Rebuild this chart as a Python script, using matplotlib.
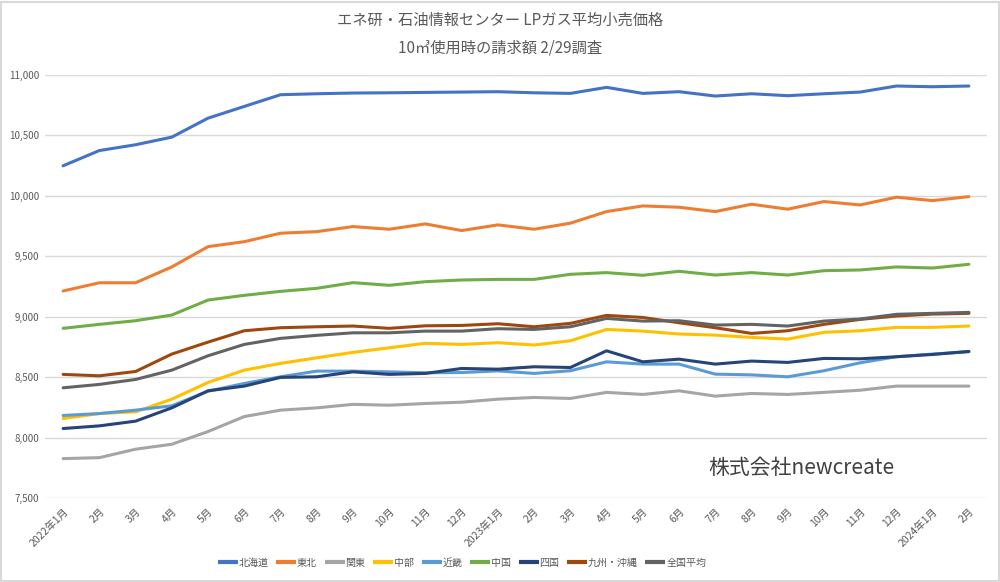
import matplotlib
matplotlib.use("Agg")
import matplotlib.pyplot as plt
from matplotlib.patches import Rectangle
from matplotlib.ticker import FuncFormatter

plt.rcParams['font.family'] = ['Noto Sans CJK JP', 'DejaVu Sans']

months = ["2022年1月", "2月", "3月", "4月", "5月", "6月", "7月", "8月", "9月", "10月", "11月", "12月",
          "2023年1月", "2月", "3月", "4月", "5月", "6月", "7月", "8月", "9月", "10月", "11月", "12月",
          "2024年1月", "2月"]

hokkaido = [10249, 10375, 10423, 10486, 10643, 10740, 10837, 10845, 10851, 10853, 10856, 10859, 10862,
            10853, 10848, 10898, 10848, 10862, 10826, 10845, 10829, 10845, 10859, 10909, 10903, 10909]
tohoku = [9213, 9281, 9281, 9412, 9580, 9621, 9691, 9704, 9746, 9724, 9768, 9713, 9760,
          9724, 9774, 9870, 9917, 9906, 9870, 9931, 9890, 9953, 9925, 9989, 9961, 9994]
kanto = [7826, 7834, 7904, 7945, 8050, 8174, 8227, 8246, 8275, 8268, 8282, 8293, 8318,
         8332, 8324, 8374, 8357, 8387, 8343, 8365, 8357, 8374, 8392, 8426, 8426, 8426]
chubu = [8158, 8199, 8213, 8318, 8456, 8558, 8614, 8660, 8705, 8743, 8780, 8771, 8785,
         8766, 8801, 8895, 8881, 8857, 8848, 8829, 8815, 8871, 8884, 8912, 8912, 8923]
kinki = [8183, 8199, 8227, 8263, 8384, 8448, 8503, 8550, 8550, 8544, 8536, 8538, 8552,
         8531, 8553, 8627, 8608, 8608, 8525, 8519, 8503, 8553, 8619, 8669, 8691, 8710]
chugoku = [8904, 8937, 8967, 9014, 9138, 9177, 9210, 9235, 9282, 9260, 9290, 9304, 9309,
           9309, 9351, 9365, 9343, 9376, 9345, 9365, 9345, 9381, 9387, 9412, 9403, 9434]
shikoku = [8075, 8097, 8136, 8246, 8387, 8426, 8498, 8503, 8544, 8523, 8531, 8572, 8566,
           8586, 8580, 8718, 8627, 8649, 8608, 8633, 8622, 8655, 8652, 8669, 8688, 8713]
kyushu = [8523, 8511, 8547, 8691, 8790, 8884, 8909, 8917, 8923, 8904, 8925, 8928, 8942,
          8917, 8945, 9011, 8994, 8950, 8909, 8862, 8884, 8937, 8978, 9006, 9022, 9028]
national = [8412, 8440, 8481, 8558, 8677, 8771, 8821, 8846, 8867, 8867, 8881, 8881, 8901,
            8895, 8917, 8986, 8964, 8967, 8931, 8937, 8923, 8964, 8981, 9020, 9028, 9036]

series_names = ["北海道", "東北", "関東", "中部", "近畿", "中国", "四国", "九州・沖縄", "全国平均"]
series_values = [hokkaido, tohoku, kanto, chubu, kinki, chugoku, shikoku, kyushu, national]
colors = ["#4472C4", "#ED7D31", "#A5A5A5", "#FFC000", "#5B9BD5", "#70AD47", "#264478", "#9E480E", "#636363"]

fig = plt.figure(figsize=(10, 5.82), dpi=100)
fig.patches.append(Rectangle((0.001, 0.001), 0.998, 0.996, transform=fig.transFigure,
                             fill=False, edgecolor="#D9D9D9", linewidth=1.5))
ax = fig.add_axes([0.045, 0.1443, 0.942, 0.7268])

x = list(range(len(months)))
for name, vals, c in zip(series_names, series_values, colors):
    ax.plot(x, vals, color=c, linewidth=2.2, label=name, solid_capstyle='round')

ax.set_xlim(-0.5, len(months) - 0.5)
ax.set_ylim(7500, 11000)
ax.set_yticks([7500, 8000, 8500, 9000, 9500, 10000, 10500, 11000])
ax.yaxis.set_major_formatter(FuncFormatter(lambda v, p: f"{int(v):,}"))
ax.grid(axis='y', color="#D9D9D9", linewidth=1)
ax.set_axisbelow(True)
for s in ax.spines.values():
    s.set_visible(False)
ax.tick_params(axis='both', length=0, colors="#595959")
ax.tick_params(axis='y', labelsize=7, pad=4)
ax.set_xticks(x)
ax.set_xticklabels(months, rotation=45, ha='right', rotation_mode='anchor', fontsize=7.5)
ax.tick_params(axis='x', pad=6)

fig.text(0.5, 0.965, "エネ研・石油情報センター LPガス平均小売価格", ha='center', va='center',
         fontsize=11, color="#595959")
fig.text(0.5, 0.918, "10㎥使用時の請求額 2/29調査", ha='center', va='center',
         fontsize=11, color="#595959")

fig.text(0.708, 0.196, "株式会社newcreate", ha='left', va='center',
         fontsize=15, color="#404040")

leg = fig.legend(loc='center', bbox_to_anchor=(0.462, 0.033), ncol=9, frameon=False,
                 fontsize=7.2, handlelength=2.0, handletextpad=0.1, columnspacing=0.75,
                 labelcolor="#595959")
for h in leg.get_lines():
    h.set_linewidth(3)
    h.set_solid_capstyle('butt')

fig.savefig("out.png", dpi=100)
